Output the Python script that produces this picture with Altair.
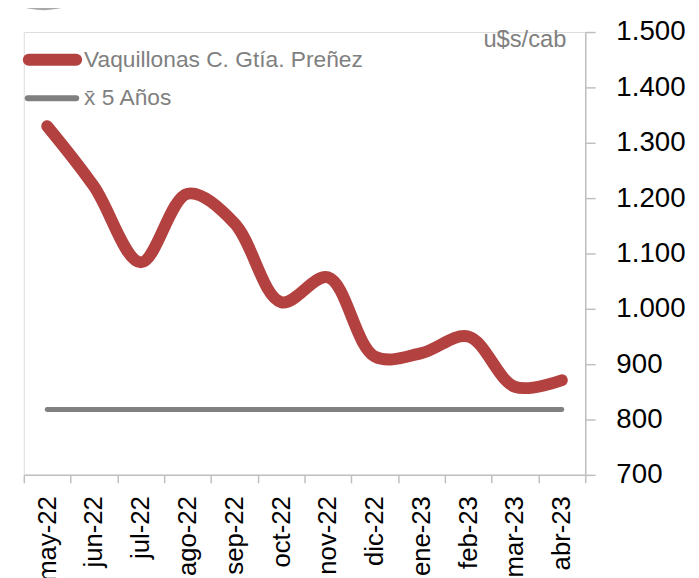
import altair as alt
import pandas as pd

months = ["may-22", "jun-22", "jul-22", "ago-22", "sep-22", "oct-22",
          "nov-22", "dic-22", "ene-23", "feb-23", "mar-23", "abr-23"]
vaquillonas = [1330, 1221, 1084, 1208, 1155, 1012, 1057, 914, 920, 950, 859, 871]
promedio_5 = [818, 818, 818, 818, 818, 818, 818, 818, 818, 818, 818, 818]

s_vaq = "Vaquillonas C. Gtía. Preñez"
s_prom = "x\u0304 5 Años"

RED = "#b24140"
GRAY = "#808080"
AXIS = "#bfbfbf"
FONT = "Liberation Sans"

df = pd.DataFrame({
    "mes": months * 2,
    "valor": vaquillonas + promedio_5,
    "serie": [s_vaq] * len(months) + [s_prom] * len(months),
})

x_enc = alt.X(
    "mes:N", sort=months, bandPosition=0.5,
    scale=alt.Scale(type="band", paddingInner=0, paddingOuter=0),
    axis=alt.Axis(title=None, labelAngle=-90, tickBand="extent", labelFontSize=26,
                  labelFont=FONT, labelColor="black", domainColor=AXIS, tickColor=AXIS,
                  domainWidth=1.5, tickWidth=1.5, tickSize=8, labelPadding=13, grid=False),
)
y_enc = alt.Y(
    "valor:Q",
    scale=alt.Scale(domain=[700, 1500], nice=False, zero=False),
    axis=alt.Axis(title=None, orient="right", values=list(range(700, 1501, 100)),
                  labelExpr="replace(format(datum.value, ','), ',', '.')",
                  labelFontSize=28, labelFont=FONT, labelColor="black",
                  domainColor=AXIS, tickColor=AXIS, domainWidth=1.5, tickWidth=1.5,
                  tickSize=10, labelPadding=21, grid=False),
)

lines = alt.Chart(df).mark_line(interpolate="catmull-rom", strokeCap="round").encode(
    x=x_enc,
    y=y_enc,
    color=alt.Color("serie:N", scale=alt.Scale(domain=[s_vaq, s_prom], range=[RED, GRAY]), legend=None),
    strokeWidth=alt.StrokeWidth("serie:N", scale=alt.Scale(domain=[s_vaq, s_prom], range=[12, 5]), legend=None),
    order=alt.Order("serie:N", sort="descending"),
)

leg_df = pd.DataFrame({"serie": [s_vaq, s_prom]})

leg_red = alt.Chart(leg_df).transform_filter(alt.datum.serie == s_vaq).mark_rule(
    color=RED, strokeWidth=12, strokeCap="round").encode(
    x=alt.value(5), x2=alt.value(53), y=alt.value(28))
leg_gray = alt.Chart(leg_df).transform_filter(alt.datum.serie == s_prom).mark_rule(
    color=GRAY, strokeWidth=6, strokeCap="round").encode(
    x=alt.value(4), x2=alt.value(53), y=alt.value(67))
leg_text_red = alt.Chart(leg_df).transform_filter(alt.datum.serie == s_vaq).mark_text(
    align="left", baseline="middle", fontSize=23, font=FONT, color=GRAY).encode(
    x=alt.value(61), y=alt.value(28), text="serie:N")
leg_text_gray = alt.Chart(leg_df).transform_filter(alt.datum.serie == s_prom).mark_text(
    align="left", baseline="middle", fontSize=23, font=FONT, color=GRAY).encode(
    x=alt.value(61), y=alt.value(67), text="serie:N")

unit_df = pd.DataFrame({"t": ["u$s/cab"]})
unit = alt.Chart(unit_df).mark_text(
    align="right", baseline="alphabetic", fontSize=24, font=FONT, color=GRAY).encode(
    x=alt.value(549), y=alt.value(15), text="t:N")

logo_df = pd.DataFrame({"k": ["logo"]})
logo_ring = alt.Chart(logo_df).mark_circle(color="#a9a9a9", opacity=1, size=20106).encode(
    x=alt.value(20), y=alt.value(-93))
logo_in = alt.Chart(logo_df).mark_circle(color="#e2dc1e", opacity=1, size=12868).encode(
    x=alt.value(20), y=alt.value(-88))

chart = alt.layer(
    logo_ring, logo_in, lines, leg_red, leg_gray, leg_text_red, leg_text_gray, unit
).properties(
    width=568, height=448,
    autosize=alt.AutoSizeParams(type="none"),
    padding={"left": 16, "top": 21, "right": 107, "bottom": 101},
).configure_view(stroke=None).configure(background="white")

chart.save("out.html", embed_options={"renderer": "svg", "actions": False})
